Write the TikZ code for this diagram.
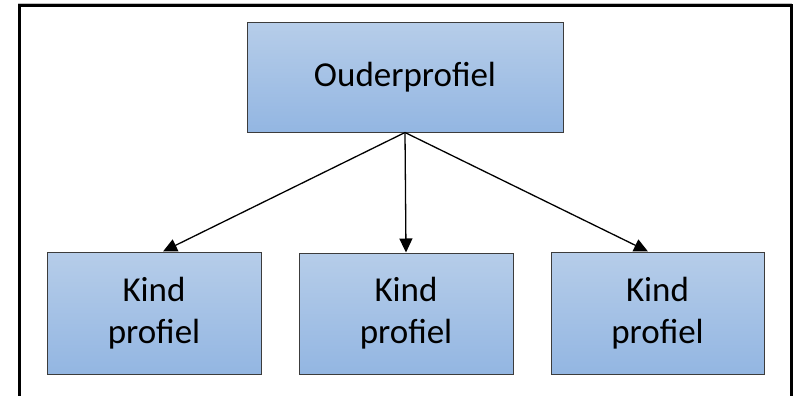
\documentclass[tikz,border=0pt]{standalone}
\usepackage{fontspec}
\setmainfont{Carlito}
\usetikzlibrary{arrows.meta}
\definecolor{boxtop}{RGB}{182,205,233}
\definecolor{boxbot}{RGB}{147,182,226}
\definecolor{boxline}{RGB}{60,60,60}
\tikzset{
  profbox/.style={draw=boxline, line width=1pt, top color=boxtop, bottom color=boxbot,
    inner sep=0pt, align=center, font=\fontsize{35}{42}\selectfont},
  link/.style={line width=1.3pt, -{Triangle[length=14pt,width=13pt]}}
}
\begin{document}
\begin{tikzpicture}[x=1pt,y=-1pt]
\useasboundingbox (0,0) rectangle (798,396);
\clip (0,0) rectangle (798,396);
\fill[white] (0,0) rectangle (798,396);
\draw[gray!50, line width=1pt] (18,3.5) -- (792,3.5);
\draw[black, line width=3pt] (19,420) -- (19,5.5) -- (791,5.5) -- (791,420);
\node[profbox, minimum width=316pt, minimum height=109pt] (parent) at (405,77.5) {Ouderprofiel};
\node[profbox, minimum width=214pt, minimum height=122pt] (k1) at (154,313) {Kind\\profiel};
\node[profbox, minimum width=214pt, minimum height=121pt] (k2) at (406,313.5) {Kind\\profiel};
\node[profbox, minimum width=213pt, minimum height=122pt] (k3) at (657.5,313) {Kind\\profiel};
\coordinate (src) at (parent.south);
\draw[link] (src) -- (k1.north -| 163,0);
\draw[link] (src) -- (k2.north);
\draw[link] (src) -- (k3.north -| 648,0);
\end{tikzpicture}
\end{document}
